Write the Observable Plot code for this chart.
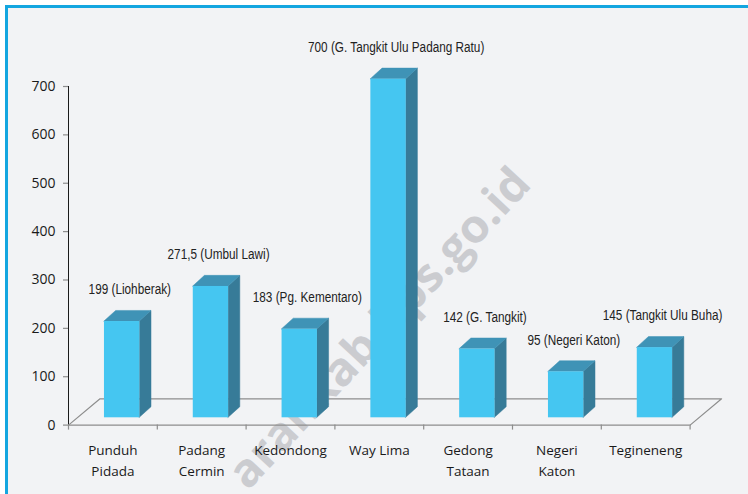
<!DOCTYPE html>
<html><head><meta charset="utf-8">
<script src="https://cdn.jsdelivr.net/npm/d3@7"></script>
<script src="https://cdn.jsdelivr.net/npm/@observablehq/plot@0.6"></script>
<style>
html,body{margin:0;padding:0;background:#fff;}
#wrap{position:relative;width:748px;height:494px;overflow:hidden;background:#fff;}
#panel{position:absolute;left:5px;top:5px;right:-10px;bottom:-10px;border-left:3px solid #13A6E0;border-top:3px solid #13A6E0;background:#F2F3F5;}
#chart{position:absolute;left:0;top:0;}
</style></head><body>
<div id="wrap"><div id="panel"></div><div id="chart"></div></div>
<script>
// ---- data ----
const categories = ["Punduh\nPidada", "Padang\nCermin", "Kedondong", "Way Lima", "Gedong\nTataan", "Negeri\nKaton", "Tegineneng"];
const values = [199, 271.5, 183, 700, 142, 95, 145];
const valueLabels = ["199", "271,5", "183", "700", "142", "95", "145"];
const peaks = ["Liohberak", "Umbul Lawi", "Pg. Kementaro", "G. Tangkit Ulu Padang Ratu", "G. Tangkit", "Negeri Katon", "Tangkit Ulu Buha"];
const yTicks = [0, 100, 200, 300, 400, 500, 600, 700];
const watermark = "arankab.bps.go.id";

// ---- layout / style constants ----
const W = 748, H = 494;
const mL = 68, mR = W - 689.6, mT = 86, mB = H - 424.6;
const n = categories.length;
const yMax = 700;
const pxPerUnit = (H - mT - mB) / yMax;
const bandPx = (W - mL - mR) / n;
const barX0 = 0.405, barX1 = 0.803;          // bar front face within band
const depthX = 11.7 / bandPx, depthY = 10.6 / pxPerUnit; // bar depth
const floorX = 31.5 / bandPx, floorY = 26.3 / pxPerUnit; // floor depth
const barLift = -7.3;
const cFront = "#45C6F1", cTop = "#3F93B6", cSide = "#377B98", cAxis = "#8d8d8d";
const wmCenter = [390, 338], wmLength = 418, wmAngle = -47;

const rows = categories.map((c, i) => ({
  i, name: c, lines: c.split("\n"), v: values[i],
  label: `${valueLabels[i]} (${peaks[i]})`
}));
const sidePts = rows.flatMap(d => [
  {i: d.i, x: d.i + barX1, y1: 0, y2: d.v},
  {i: d.i, x: d.i + barX1 + depthX, y1: depthY, y2: d.v + depthY}
]);
const topPts = rows.flatMap(d => [
  {i: d.i, y: d.v, x1: d.i + barX0, x2: d.i + barX1},
  {i: d.i, y: d.v + depthY, x1: d.i + barX0 + depthX, x2: d.i + barX1 + depthX}
]);
const floorPts = [
  {x: 0, y: 0}, {x: floorX, y: floorY}, {x: n + floorX, y: floorY}, {x: n, y: 0}
];

const plot = Plot.plot({
  width: W, height: H,
  marginLeft: mL, marginRight: mR, marginTop: mT, marginBottom: mB,
  style: {background: "transparent", fontFamily: "'Open Sans', sans-serif", fontSize: "14px", color: "#1a1a1a", overflow: "visible"},
  x: {domain: [0, n], ticks: d3.range(0, n + 1), tickFormat: () => "", tickSize: 5, label: null},
  y: {domain: [0, yMax], ticks: yTicks, tickSize: 5, tickPadding: 8, line: true, label: null},
  marks: [
    Plot.text([watermark], {x: (wmCenter[0] - mL) / bandPx, y: (424.6 - wmCenter[1]) / pxPerUnit, text: d => d, rotate: wmAngle,
      textAnchor: "middle", lineAnchor: "bottom", fontSize: 46, fontWeight: "bold", fill: "#cbccd0"}),
    Plot.line(floorPts, {x: "x", y: "y", stroke: cAxis, strokeWidth: 1.2}),
    Plot.ruleY([0], {stroke: cAxis, strokeWidth: 1.2}),
    Plot.areaY(sidePts, {x: "x", y1: "y1", y2: "y2", z: "i", fill: cSide, stroke: cSide, strokeWidth: 0.5, dy: barLift}),
    Plot.areaX(topPts, {y: "y", x1: "x1", x2: "x2", z: "i", fill: cTop, stroke: cTop, strokeWidth: 0.5, dy: barLift}),
    Plot.rect(rows, {x1: d => d.i + barX0, x2: d => d.i + barX1, y1: 0, y2: "v", fill: cFront, dy: barLift}),
    Plot.text(rows, {x: d => d.i + 0.69, y: "v", text: "label", dy: -39, fontSize: 14,
      fontFamily: "'Liberation Sans', Arial, sans-serif", fill: "#222"}),
    Plot.text(rows, {x: d => d.i + 0.5, y: 0, text: d => d.lines[0], dy: 26, fontSize: 13.5, fill: "#1a1a1a"}),
    Plot.text(rows.filter(d => d.lines.length > 1), {x: d => d.i + 0.5, y: 0, text: d => d.lines[1], dy: 47, fontSize: 13.5, fill: "#1a1a1a"})
  ]
});
document.getElementById("chart").append(plot);

// axis styling: gray lines, dark labels
const svg = d3.select(plot.tagName.toLowerCase() === "svg" ? plot : plot.querySelector("svg"));
svg.selectAll("[aria-label*='axis'] line, [aria-label*='axis'] path").attr("stroke", cAxis).attr("stroke-width", 1.2);
svg.selectAll("[aria-label*='axis'] text").attr("fill", "#1a1a1a").style("font-size", "14px");
// condensed look for the peak annotations
const labelSet = new Set(rows.map(d => d.label));
svg.selectAll("text").filter(function() { return labelSet.has(this.textContent); }).each(function() {
  const len = this.getComputedTextLength();
  this.setAttribute("textLength", (len * 0.84).toFixed(1));
  this.setAttribute("lengthAdjust", "spacingAndGlyphs");
});
// watermark length
svg.selectAll("text").filter(function() { return this.textContent === watermark; })
  .attr("textLength", wmLength).attr("lengthAdjust", "spacingAndGlyphs");
</script>
</body></html>
